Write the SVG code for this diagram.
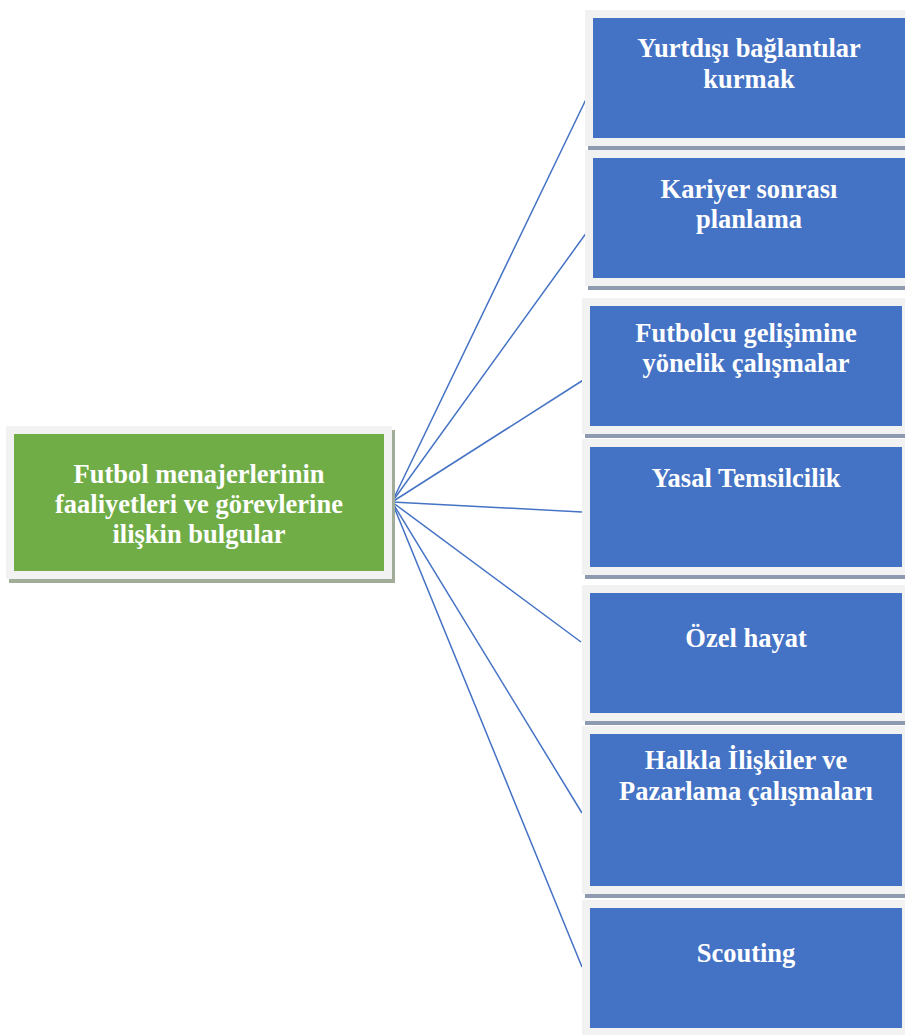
<svg xmlns="http://www.w3.org/2000/svg" width="905" height="1035" viewBox="0 0 905 1035">
<style>
.frame{fill:#f2f2f2}
.shadowB{fill:#8e9ab0}
.shadowG{fill:#a1ad98}
.blue{fill:#4472c4}
.green{fill:#70ad47}
.t{font-family:"Liberation Serif","Times New Roman",serif;font-weight:bold;font-size:26.5px;fill:#ffffff;text-anchor:middle}
.c{stroke:#4472c4;stroke-width:1.5;fill:none}
</style>
<rect x="0" y="0" width="905" height="1035" fill="#ffffff"/>
<g id="connectors">
<line class="c" x1="392" y1="502" x2="590" y2="91"/>
<line class="c" x1="392" y1="502" x2="592" y2="225"/>
<line class="c" x1="392" y1="502" x2="588" y2="377"/>
<line class="c" x1="392" y1="502" x2="582" y2="512"/>
<line class="c" x1="392" y1="502" x2="581" y2="642"/>
<line class="c" x1="392" y1="502" x2="582" y2="813"/>
<line class="c" x1="392" y1="502" x2="582" y2="967"/>
</g>
<g id="center">
<rect class="shadowG" x="9" y="430" width="386" height="153"/>
<rect class="frame" x="6" y="426" width="386" height="153"/>
<rect class="green" x="14" y="434" width="370" height="137"/>
<text class="t" x="199" y="483">Futbol menajerlerinin</text>
<text class="t" x="199" y="513">faaliyetleri ve görevlerine</text>
<text class="t" x="199" y="543">ilişkin bulgular</text>
</g>
<g id="n1">
<rect class="shadowB" x="588" y="14" width="328" height="136"/>
<rect class="frame" x="585" y="10" width="328" height="136"/>
<rect class="blue" x="593" y="18" width="312" height="120"/>
<text class="t" x="749" y="57">Yurtdışı bağlantılar</text>
<text class="t" x="749" y="88">kurmak</text>
</g>
<g id="n2">
<rect class="shadowB" x="588" y="154" width="328" height="136"/>
<rect class="frame" x="585" y="150" width="328" height="136"/>
<rect class="blue" x="593" y="158" width="312" height="120"/>
<text class="t" x="749" y="198">Kariyer sonrası</text>
<text class="t" x="749" y="228">planlama</text>
</g>
<g id="n3">
<rect class="shadowB" x="585" y="302" width="328" height="136"/>
<rect class="frame" x="582" y="298" width="328" height="136"/>
<rect class="blue" x="590" y="306" width="312" height="120"/>
<text class="t" x="746" y="342">Futbolcu gelişimine</text>
<text class="t" x="746" y="372">yönelik çalışmalar</text>
</g>
<g id="n4">
<rect class="shadowB" x="585" y="443" width="328" height="136"/>
<rect class="frame" x="582" y="439" width="328" height="136"/>
<rect class="blue" x="590" y="447" width="312" height="120"/>
<text class="t" x="746" y="487">Yasal Temsilcilik</text>
</g>
<g id="n5">
<rect class="shadowB" x="585" y="589" width="328" height="136"/>
<rect class="frame" x="582" y="585" width="328" height="136"/>
<rect class="blue" x="590" y="593" width="312" height="120"/>
<text class="t" x="746" y="647">Özel hayat</text>
</g>
<g id="n6">
<rect class="shadowB" x="585" y="730" width="328" height="168"/>
<rect class="frame" x="582" y="726" width="328" height="168"/>
<rect class="blue" x="590" y="734" width="312" height="152"/>
<text class="t" x="746" y="769">Halkla İlişkiler ve</text>
<text class="t" x="746" y="800">Pazarlama çalışmaları</text>
</g>
<g id="n7">
<rect class="shadowB" x="585" y="904" width="328" height="136"/>
<rect class="frame" x="582" y="900" width="328" height="136"/>
<rect class="blue" x="590" y="908" width="312" height="120"/>
<text class="t" x="746" y="962">Scouting</text>
</g>
</svg>
